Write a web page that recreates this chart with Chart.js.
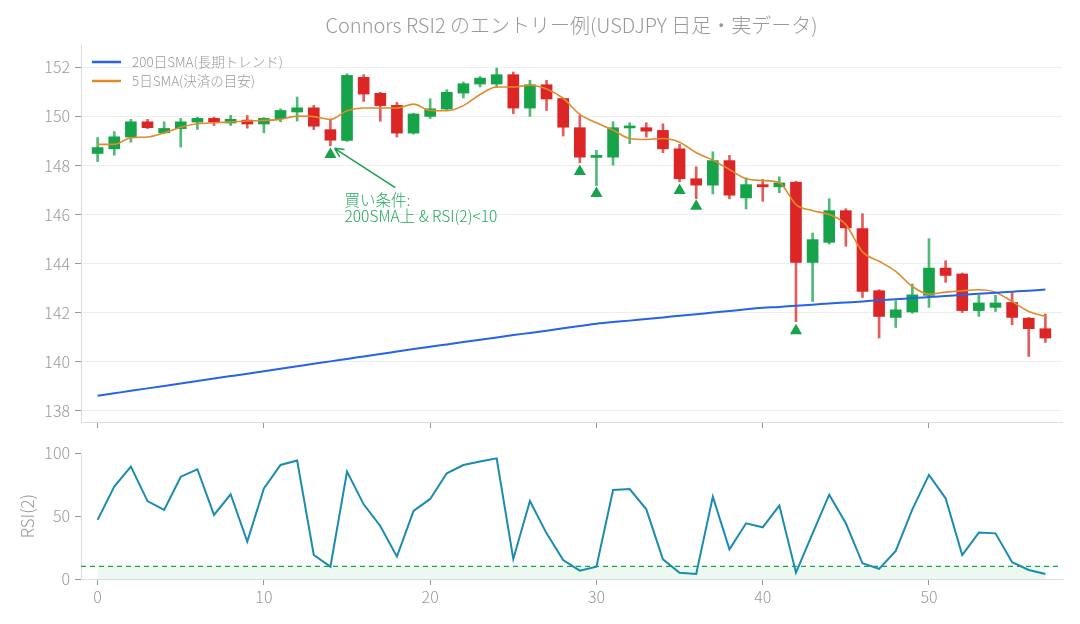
<!DOCTYPE html>
<html lang="ja">
<head>
<meta charset="utf-8">
<title>Connors RSI2 のエントリー例</title>
<script src="https://cdn.jsdelivr.net/npm/chart.js@4.4.1/dist/chart.umd.min.js"></script>
<style>
  html, body { margin: 0; padding: 0; background: #fff; }
  #wrap { position: relative; width: 1080px; height: 624px; }
  #priceBox { position: absolute; left: 0; top: 0; width: 1080px; height: 432px; }
  #rsiBox { position: absolute; left: 0; top: 432px; width: 1080px; height: 192px; }
</style>
</head>
<body>
<div id="wrap">
  <div id="priceBox"><canvas id="price"></canvas></div>
  <div id="rsiBox"><canvas id="rsi"></canvas></div>
</div>
<script>
// Daily candles, index 0..57
const opens = [148.49, 148.68, 149.16, 149.78, 149.33, 149.50, 149.77, 149.92, 149.73, 149.85,
  149.69, 149.91, 150.18, 150.35, 149.46, 149.02, 151.59, 150.94, 150.45, 149.32,
  150.00, 150.30, 150.95, 151.32, 151.32, 151.70, 150.34, 151.29, 150.73, 149.54,
  148.33, 148.34, 149.53, 149.54, 149.43, 148.68, 147.46, 147.20, 148.20, 146.68,
  147.22, 147.13, 147.32, 144.05, 144.87, 146.16, 145.43, 142.90, 141.81, 142.03,
  142.71, 143.82, 143.58, 142.09, 142.22, 142.42, 141.78, 141.35];
const highs = [149.14, 149.38, 149.88, 149.88, 149.78, 149.92, 149.97, 149.97, 150.04, 150.04,
  149.95, 150.31, 150.79, 150.45, 149.87, 151.74, 151.70, 150.98, 150.57, 150.13,
  150.72, 151.09, 151.40, 151.63, 151.97, 151.81, 151.47, 151.47, 150.75, 150.04,
  148.62, 149.78, 149.74, 149.74, 149.70, 148.86, 147.95, 148.56, 148.41, 147.50,
  147.43, 147.54, 147.36, 145.25, 146.65, 146.24, 146.04, 142.94, 142.49, 143.17,
  145.02, 144.12, 143.62, 142.71, 142.71, 142.84, 141.81, 141.95];
const lows = [148.16, 148.42, 148.95, 149.50, 149.29, 148.75, 149.47, 149.63, 149.63, 149.52,
  149.33, 149.78, 149.81, 149.46, 148.80, 148.98, 150.61, 149.80, 149.16, 149.28,
  149.91, 150.24, 150.75, 151.20, 151.18, 150.11, 150.00, 150.24, 149.20, 148.11,
  147.18, 148.01, 148.89, 149.16, 148.52, 147.33, 146.65, 146.84, 146.64, 146.23,
  146.54, 146.89, 141.64, 142.46, 144.80, 144.71, 142.62, 140.97, 141.40, 141.98,
  142.22, 143.24, 142.01, 141.85, 142.05, 141.51, 140.22, 140.79];
const closes = [148.73, 149.17, 149.78, 149.54, 149.51, 149.78, 149.92, 149.77, 149.88, 149.69,
  149.92, 150.24, 150.35, 149.60, 149.03, 151.67, 150.91, 150.44, 149.32, 150.10,
  150.31, 150.98, 151.33, 151.56, 151.70, 150.34, 151.29, 150.71, 149.56, 148.34,
  148.36, 149.54, 149.56, 149.40, 148.68, 147.46, 147.20, 148.20, 146.79, 147.22,
  147.13, 147.29, 144.05, 144.98, 146.16, 145.46, 142.87, 141.85, 142.12, 142.73,
  143.82, 143.52, 142.09, 142.40, 142.40, 141.81, 141.35, 140.97];

// Moving averages as drawn
const sma200 = [138.62, 138.72, 138.82, 138.92, 139.02, 139.12, 139.22, 139.32, 139.42, 139.52,
  139.62, 139.72, 139.82, 139.92, 140.02, 140.12, 140.22, 140.32, 140.42, 140.52,
  140.62, 140.71, 140.81, 140.90, 140.99, 141.09, 141.18, 141.27, 141.37, 141.46,
  141.55, 141.62, 141.68, 141.75, 141.81, 141.88, 141.94, 142.01, 142.07, 142.14,
  142.20, 142.24, 142.29, 142.33, 142.38, 142.42, 142.46, 142.51, 142.55, 142.60,
  142.64, 142.68, 142.73, 142.77, 142.82, 142.86, 142.90, 142.95];
const sma5 = [148.86, 148.86, 149.13, 149.16, 149.33, 149.56, 149.70, 149.74, 149.77, 149.81,
  149.84, 149.88, 150.01, 149.99, 149.88, 150.23, 150.34, 150.34, 150.34, 150.50,
  150.24, 150.23, 150.44, 150.89, 151.20, 151.20, 151.27, 151.12, 150.74, 150.08,
  149.74, 149.44, 149.10, 149.06, 149.10, 148.95, 148.52, 148.22, 147.84, 147.46,
  147.39, 147.30, 146.41, 146.16, 146.00, 145.59, 144.48, 144.10, 143.69, 143.07,
  142.76, 142.84, 142.90, 142.94, 142.84, 142.46, 142.05, 141.85];

// Buy signals (index and marker level)
const buyIdx = [14, 29, 30, 35, 36, 42];
const buyY = [148.45, 147.76, 146.86, 146.98, 146.34, 141.27];

// RSI(2)
const rsi2 = [47, 73.5, 89.4, 62, 55, 81.4, 87.3, 51, 67.4, 29.7,
  72.1, 90.7, 94.2, 19.1, 9.8, 85.4, 59.4, 42.2, 17.8, 54.1,
  63.7, 84.1, 90.7, 93.4, 96, 15.9, 62, 36.3, 15.1, 6.6,
  9.8, 70.8, 71.6, 55.4, 15.6, 5.0, 4.0, 65.5, 23.6, 44.3,
  41.1, 58.4, 5.0, 36.3, 67.1, 44.3, 12.5, 8.0, 22.3, 55.4,
  82.8, 64.2, 19.1, 36.9, 36.3, 13.3, 7.2, 4.0];
const rsiLevel = 10;

const xTicks = [0, 10, 20, 30, 40, 50];
const priceTicks = [138, 140, 142, 144, 146, 148, 150, 152];
const rsiTicks = [0, 50, 100];

const FONT = "'Noto Sans CJK JP', 'Noto Sans', sans-serif";
const GREEN = '#16a34a';
const RED = '#dc2626';
const TICK_COLOR = '#999999';

const isUp = closes.map((c, i) => c >= opens[i]);
const idx = closes.map((c, i) => i);

const bodies = idx.map(i => ({ x: i, y: [opens[i], closes[i]] }));
const wicks = idx.map(i => ({ x: i, y: [lows[i], highs[i]] }));

// text drawn on top of the price panel: legend + annotation
const legendItems = [
    { text: '200日SMA(長期トレンド)', color: '#2563eb' },
    { text: '5日SMA(決済の目安)', color: '#e08a2a' }
];
const note = { x: 14.85, y: 146.6, tipX: 14.25, tipY: 148.7, tailX: 17.9, tailY: 147.1,
    lines: ['買い条件:', '200SMA上 & RSI(2)<10'] };

const overlayPlugin = {
    id: 'overlay',
    afterDatasetsDraw(chart) {
        const ctx = chart.ctx;
        const area = chart.chartArea;
        const xs = chart.scales.x, ys = chart.scales.y;
        ctx.save();

        // legend
        ctx.font = '300 13.5px ' + FONT;
        ctx.textBaseline = 'middle';
        legendItems.forEach((item, k) => {
            const y = area.top + 18 + k * 19;
            ctx.strokeStyle = item.color;
            ctx.lineWidth = 2.5;
            ctx.beginPath();
            ctx.moveTo(area.left + 11, y);
            ctx.lineTo(area.left + 40, y);
            ctx.stroke();
            ctx.fillStyle = '#999999';
            ctx.fillText(item.text, area.left + 51, y);
        });

        // annotation arrow
        const tx = xs.getPixelForValue(note.tipX), ty = ys.getPixelForValue(note.tipY);
        const sx = xs.getPixelForValue(note.tailX), sy = ys.getPixelForValue(note.tailY);
        ctx.strokeStyle = GREEN;
        ctx.lineWidth = 1.5;
        ctx.beginPath();
        ctx.moveTo(sx, sy);
        ctx.lineTo(tx, ty);
        const ang = Math.atan2(sy - ty, sx - tx);
        [-0.45, 0.45].forEach(d => {
            ctx.moveTo(tx, ty);
            ctx.lineTo(tx + 10 * Math.cos(ang + d), ty + 10 * Math.sin(ang + d));
        });
        ctx.stroke();

        ctx.fillStyle = '#22a85a';
        ctx.font = '300 15.5px ' + FONT;
        ctx.textAlign = 'left';
        const lx = xs.getPixelForValue(note.x);
        const ly = ys.getPixelForValue(note.y);
        note.lines.forEach((t, k) => ctx.fillText(t, lx, ly + k * 16));
        ctx.restore();
    }
};

const tickFont = { family: FONT, size: 16, weight: 300 };

// keep the y labels from pushing the plot area in
const noLabelPadding = s => { s.width = 81; s.paddingTop = 0; s.paddingBottom = 0; };

new Chart(document.getElementById('price'), {
    type: 'bar',
    data: {
        datasets: [
            {
                type: 'line',
                label: '200日SMA(長期トレンド)',
                data: idx.map(i => ({ x: i, y: sma200[i] })),
                borderColor: '#2563eb',
                borderWidth: 2,
                pointRadius: 0,
                cubicInterpolationMode: 'monotone',
                order: 1
            },
            {
                type: 'line',
                label: '5日SMA(決済の目安)',
                data: idx.map(i => ({ x: i, y: sma5[i] })),
                borderColor: '#e08a2a',
                borderWidth: 1.6,
                pointRadius: 0,
                cubicInterpolationMode: 'monotone',
                order: 1
            },
            {
                type: 'scatter',
                data: buyIdx.map((b, k) => ({ x: b, y: buyY[k] })),
                pointStyle: 'triangle',
                pointRadius: 7,
                backgroundColor: GREEN,
                borderColor: GREEN,
                borderWidth: 0,
                order: 0
            },
            {
                data: bodies,
                backgroundColor: idx.map(i => isUp[i] ? GREEN : RED),
                barThickness: 11,
                minBarLength: 2,
                grouped: false,
                borderWidth: 0,
                order: 3
            },
            {
                data: wicks,
                backgroundColor: idx.map(i => isUp[i] ? 'rgba(22,163,74,0.75)' : 'rgba(220,38,38,0.75)'),
                barThickness: 2,
                grouped: false,
                borderWidth: 0,
                order: 4
            }
        ]
    },
    options: {
        responsive: true,
        maintainAspectRatio: false,
        animation: false,
        layout: { padding: { left: 0, right: 18, top: 0, bottom: 4 } },
        plugins: {
            legend: { display: false },
            tooltip: { enabled: false },
            title: {
                display: true,
                text: 'Connors RSI2 のエントリー例(USDJPY 日足・実データ)',
                color: '#999999',
                fullSize: false,
                font: { family: FONT, size: 20, weight: 300 },
                padding: { top: 13, bottom: 7 }
            }
        },
        scales: {
            x: {
                type: 'linear',
                min: -1,
                max: 58,
                offset: false,
                afterBuildTicks: s => { s.ticks = xTicks.map(v => ({ value: v })); },
                afterFit: s => { s.height = 6; },
                ticks: { display: false },
                grid: { offset: false, drawOnChartArea: false, tickLength: 6, tickColor: TICK_COLOR },
                border: { color: '#dddddd' }
            },
            y: {
                min: 137.55,
                max: 152.95,
                afterBuildTicks: s => { s.ticks = priceTicks.map(v => ({ value: v })); },
                afterFit: noLabelPadding,
                ticks: { color: TICK_COLOR, font: tickFont, padding: 5 },
                grid: { color: '#eeeeee', tickLength: 6, tickColor: TICK_COLOR },
                border: { color: '#dddddd' }
            }
        }
    },
    plugins: [overlayPlugin]
});

new Chart(document.getElementById('rsi'), {
    type: 'line',
    data: {
        datasets: [
            {
                label: 'RSI(2)',
                data: idx.map(i => ({ x: i, y: rsi2[i] })),
                borderColor: '#1a8cb0',
                borderWidth: 2,
                pointRadius: 0,
                tension: 0
            },
            {
                data: [{ x: -1, y: rsiLevel }, { x: 58, y: rsiLevel }],
                borderColor: GREEN,
                borderWidth: 1.2,
                borderDash: [5, 4],
                pointRadius: 0
            },
            {
                data: [{ x: 0, y: rsiLevel }, { x: 57, y: rsiLevel }],
                borderWidth: 0,
                pointRadius: 0,
                fill: 'origin',
                backgroundColor: 'rgba(22,163,74,0.08)'
            }
        ]
    },
    options: {
        responsive: true,
        maintainAspectRatio: false,
        animation: false,
        layout: { padding: { left: 0, right: 18, top: 21.3, bottom: 0 } },
        plugins: {
            legend: { display: false },
            tooltip: { enabled: false },
            filler: { propagate: false }
        },
        scales: {
            x: {
                type: 'linear',
                min: -1,
                max: 58,
                afterBuildTicks: s => { s.ticks = xTicks.map(v => ({ value: v })); },
                afterFit: s => { s.height = 45; },
                ticks: { color: TICK_COLOR, font: tickFont, padding: 2.4 },
                grid: { drawOnChartArea: false, tickLength: 6, tickColor: TICK_COLOR },
                border: { color: '#dddddd' }
            },
            y: {
                min: 0,
                max: 100,
                afterBuildTicks: s => { s.ticks = rsiTicks.map(v => ({ value: v })); },
                afterFit: noLabelPadding,
                ticks: { color: TICK_COLOR, font: tickFont, padding: 5 },
                grid: { drawOnChartArea: false, tickLength: 6, tickColor: TICK_COLOR },
                border: { color: '#dddddd' },
                title: {
                    display: true,
                    text: 'RSI(2)',
                    color: TICK_COLOR,
                    font: { family: FONT, size: 17, weight: 300 },
                    padding: { top: 17, bottom: 0 }
                }
            }
        }
    }
});
</script>
</body>
</html>
